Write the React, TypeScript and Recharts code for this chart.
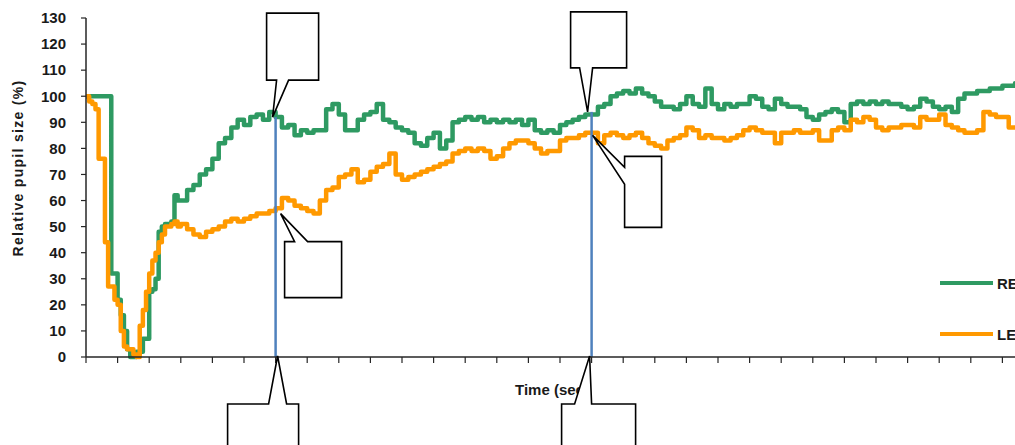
import React from 'react';
import { LineChart, Line, XAxis, YAxis, ReferenceLine, ReferenceDot, Legend } from 'recharts';

// Sample times (axis units, one unit per tick)
const time = [
  0, 0.1, 0.2, 0.3, 0.4, 0.5, 0.6, 0.7, 0.8, 0.9,
  1.0, 1.1, 1.2, 1.3, 1.4, 1.5, 1.6, 1.7, 1.8, 1.9,
  2.0, 2.1, 2.2, 2.3, 2.4, 2.5, 2.6, 2.7, 2.8, 2.9, 3.0,
  3.2, 3.4, 3.6, 3.8, 4.0, 4.2, 4.4, 4.6, 4.8, 5.0,
  5.2, 5.4, 5.6, 5.8, 6.0, 6.2, 6.4, 6.6, 6.8, 7.0,
  7.2, 7.4, 7.6, 7.8, 8.0, 8.2, 8.4, 8.6, 8.8, 9.0,
  9.2, 9.4, 9.6, 9.8, 10.0, 10.2, 10.4, 10.6, 10.8, 11.0,
  11.2, 11.4, 11.6, 11.8, 12.0, 12.2, 12.4, 12.6, 12.8, 13.0,
  13.2, 13.4, 13.6, 13.8, 14.0, 14.2, 14.4, 14.6, 14.8, 15.0,
  15.2, 15.4, 15.6, 15.8, 16.0, 16.2, 16.4, 16.6, 16.8, 17.0,
  17.2, 17.4, 17.6, 17.8, 18.0, 18.2, 18.4, 18.6, 18.8, 19.0,
  19.2, 19.4, 19.6, 19.8, 20.0, 20.2, 20.4, 20.6, 20.8, 21.0,
  21.2, 21.4, 21.6, 21.8, 22.0, 22.2, 22.4, 22.6, 22.8, 23.0,
  23.2, 23.4, 23.6, 23.8, 24.0, 24.2, 24.4, 24.6, 24.8, 25.0,
  25.2, 25.4, 25.6, 25.8, 26.0, 26.2, 26.4, 26.6, 26.8, 27.0,
  27.2, 27.4, 27.6, 27.8, 28.0, 28.2, 28.4, 28.6, 28.8, 29.0,
  29.2, 29.4, 29.6, 29.8,
];

// Right eye relative pupil size (%)
const reValues = [
  100, 100, 100, 100, 100, 100, 100, 100, 32, 32,
  22, 16, 10, 3, 0, 0, 2, 2, 7, 7,
  25, 26, 30, 48, 50, 51, 51, 52, 62, 60, 60,
  64, 66, 70, 72, 76, 82, 84, 88, 91, 89,
  92, 93, 91, 94, 92, 88, 89, 85, 87, 86,
  87, 87, 95, 97, 93, 87, 87, 91, 93, 94,
  97, 91, 90, 88, 87, 86, 82, 81, 84, 86,
  80, 83, 90, 91, 92, 91, 92, 90, 91, 90,
  91, 90, 91, 89, 91, 87, 86, 87, 86, 89,
  90, 91, 92, 93, 93, 96, 97, 100, 101, 102,
  101, 103, 101, 100, 98, 96, 96, 95, 97, 100,
  97, 96, 103, 97, 95, 97, 96, 97, 97, 100,
  99, 96, 95, 99, 97, 96, 96, 95, 92, 91,
  93, 94, 95, 94, 90, 97, 98, 97, 98, 97,
  98, 97, 97, 96, 95, 96, 99, 98, 96, 95,
  96, 94, 99, 101, 101, 102, 102, 103, 103, 104,
  104, 105, 105, 105,
];

// Left eye relative pupil size (%)
const leValues = [
  100, 98, 97, 95, 76, 76, 44, 27, 27, 22,
  20, 10, 4, 3, 3, 1, 0, 12, 18, 25,
  32, 37, 40, 44, 47, 50, 50, 51, 52, 50, 51,
  49, 47, 46, 48, 49, 50, 52, 53, 52, 53,
  54, 55, 55, 56, 57, 61, 60, 58, 57, 56,
  55, 60, 64, 65, 69, 70, 72, 67, 68, 71,
  73, 74, 78, 70, 68, 69, 70, 71, 72, 73,
  74, 75, 78, 79, 80, 79, 80, 79, 76, 77,
  80, 82, 83, 83, 82, 80, 78, 79, 79, 83,
  84, 84, 85, 86, 86, 82, 85, 86, 85, 84,
  85, 86, 84, 82, 81, 80, 83, 84, 85, 88,
  87, 84, 85, 84, 84, 83, 84, 85, 87, 88,
  87, 86, 86, 82, 86, 86, 87, 86, 86, 87,
  83, 83, 87, 88, 87, 91, 90, 92, 91, 88,
  87, 88, 88, 89, 89, 88, 92, 91, 91, 93,
  89, 88, 87, 86, 86, 87, 94, 93, 92, 92,
  88, 88, 87, 88,
];

const xTicks = [0, 1, 2, 3, 4, 5, 6, 7, 8, 9, 10, 11, 12, 13, 14, 15, 16, 17, 18, 19, 20, 21, 22, 23, 24, 25, 26, 27, 28, 29, 30];
const yTicks = [0, 10, 20, 30, 40, 50, 60, 70, 80, 90, 100, 110, 120, 130];

const seriesNames = ['RE', 'LE'];
const xAxisTitle = 'Time (sec)';
const yAxisTitle = 'Relative pupil size (%)';

// Marker times (vertical lines) and the values the callouts point at
const markerTimes = [6, 16];
const markerRE = [92, 94];
const markerLE = [55, 85];

const GREEN = '#2E9A62';
const ORANGE = '#FF9900';
const BLUE = '#4F81BD';
const AXIS = '#262626';
const FONT = '"Liberation Sans", Arial, sans-serif';

const data = time.map((t, i) => ({ t, RE: reValues[i], LE: leValues[i] }));

// Callout outlines, as pixel offsets from their anchor point
const calloutOutlines: Record<string, number[][]> = {
  topA: [[-9, -104], [43, -104], [43, -37], [13, -37], [-3, 0], [1, -37], [-9, -37]],
  sideA: [[9, 28], [19, 28], [5, 0], [32, 28], [66, 28], [66, 84], [9, 84]],
  topB: [[-21, -100], [35, -100], [35, -44], [1, -44], [-4, 0], [-12, -44], [-21, -44]],
  sideB: [[33, 21], [70, 21], [70, 92], [33, 92], [33, 49], [1, 0], [33, 32]],
  bottomA: [[-48, 47], [-7, 47], [2, -1], [11, 47], [23, 47], [23, 103], [-48, 103]],
  bottomB: [[-30, 47], [-17, 47], [-2, -1], [0, 47], [44, 47], [44, 103], [-30, 103]],
};

const makeCallout = (key: string) => (props: any) => {
  const { cx, cy } = props;
  const pts = calloutOutlines[key].map(([dx, dy]) => `${cx + dx},${cy + dy}`).join(' ');
  return <polygon points={pts} fill="#fff" stroke="#000" strokeWidth={1.6} strokeLinejoin="miter" />;
};

const callouts = [
  { key: 'topA', x: markerTimes[0], y: markerRE[0] },
  { key: 'sideA', x: markerTimes[0], y: markerLE[0] },
  { key: 'bottomA', x: markerTimes[0], y: 0 },
  { key: 'topB', x: markerTimes[1], y: markerRE[1] },
  { key: 'sideB', x: markerTimes[1], y: markerLE[1] },
  { key: 'bottomB', x: markerTimes[1], y: 0 },
];

const renderLegend = (props: any) => {
  const payload = [...(props.payload || [])].sort(
    (a: any, b: any) => seriesNames.indexOf(a.value) - seriesNames.indexOf(b.value)
  );
  return (
    <div style={{ position: 'relative', width: 100, height: 80 }}>
      {payload.map((p: any, i: number) => (
        <div
          key={p.value}
          style={{ position: 'absolute', left: 0, top: i * 51, height: 26, display: 'flex', alignItems: 'center' }}
        >
          <div style={{ width: 53, height: 4, background: p.color }} />
          <span style={{ marginLeft: 4, fontFamily: FONT, fontWeight: 700, fontSize: 15, color: '#1a1a1a' }}>{p.value}</span>
        </div>
      ))}
    </div>
  );
};

const YTitle = (props: any) => {
  const vb = props.viewBox || { x: 0, y: 0, width: 0, height: 0 };
  const x = vb.x + 18;
  const y = vb.y + 150;
  return (
    <text
      x={x}
      y={y}
      transform={`rotate(-90 ${x} ${y})`}
      textAnchor="middle"
      dominantBaseline="central"
      fontFamily={FONT}
      fontWeight={700}
      fontSize={14}
      letterSpacing={1.3}
      fill="#1a1a1a"
    >
      {yAxisTitle}
    </text>
  );
};

const XTitle = (props: any) => {
  const vb = props.viewBox || { x: 0, y: 0, width: 0, height: 0 };
  return (
    <text
      x={vb.x + vb.width / 2 - 8}
      y={vb.y + 38}
      textAnchor="middle"
      fontFamily={FONT}
      fontWeight={700}
      fontSize={15}
      fill="#1a1a1a"
    >
      {xAxisTitle}
    </text>
  );
};

export default function App() {
  return (
    <div style={{ position: 'absolute', left: 0, top: 0, width: 1015, height: 445, overflow: 'hidden', background: '#fff', fontFamily: FONT }}>
      <LineChart width={1040} height={445} data={data} margin={{ top: 18, right: 6, bottom: 48, left: 0 }}>
        <XAxis
          dataKey="t"
          type="number"
          domain={[0, 30]}
          ticks={xTicks}
          interval={0}
          tick={() => <g />}
          tickSize={6}
          tickLine={{ stroke: AXIS, strokeWidth: 1.2 }}
          axisLine={{ stroke: AXIS, strokeWidth: 1.5 }}
          height={40}
          label={<XTitle />}
        />
        <YAxis
          type="number"
          domain={[0, 130]}
          ticks={yTicks}
          interval={0}
          width={86}
          tickSize={5}
          tickMargin={15}
          tick={{ fontFamily: FONT, fontWeight: 700, fontSize: 15, fill: '#1a1a1a' }}
          tickLine={{ stroke: AXIS, strokeWidth: 1.2 }}
          axisLine={{ stroke: AXIS, strokeWidth: 1.5 }}
          label={<YTitle />}
        />
        <Line
          name={seriesNames[0]}
          dataKey="RE"
          type="stepAfter"
          stroke={GREEN}
          strokeWidth={4.5}
          dot={false}
          activeDot={false}
          isAnimationActive={false}
          strokeLinejoin="round"
        />
        <Line
          name={seriesNames[1]}
          dataKey="LE"
          type="stepAfter"
          stroke={ORANGE}
          strokeWidth={4.5}
          dot={false}
          activeDot={false}
          isAnimationActive={false}
          strokeLinejoin="round"
        />
        {markerTimes.map((mt, i) => (
          <ReferenceLine
            key={`ml${i}`}
            segment={[{ x: mt, y: 0 }, { x: mt, y: markerRE[i] }]}
            stroke={BLUE}
            strokeWidth={2.5}
            ifOverflow="visible"
          />
        ))}
        {callouts.map((c) => (
          <ReferenceDot key={c.key} x={c.x} y={c.y} r={0} ifOverflow="visible" shape={makeCallout(c.key)} />
        ))}
        <Legend
          layout="vertical"
          align="center"
          verticalAlign="middle"
          content={renderLegend}
          wrapperStyle={{ left: 940, top: 270, width: 100, height: 80 }}
        />
      </LineChart>
    </div>
  );
}
